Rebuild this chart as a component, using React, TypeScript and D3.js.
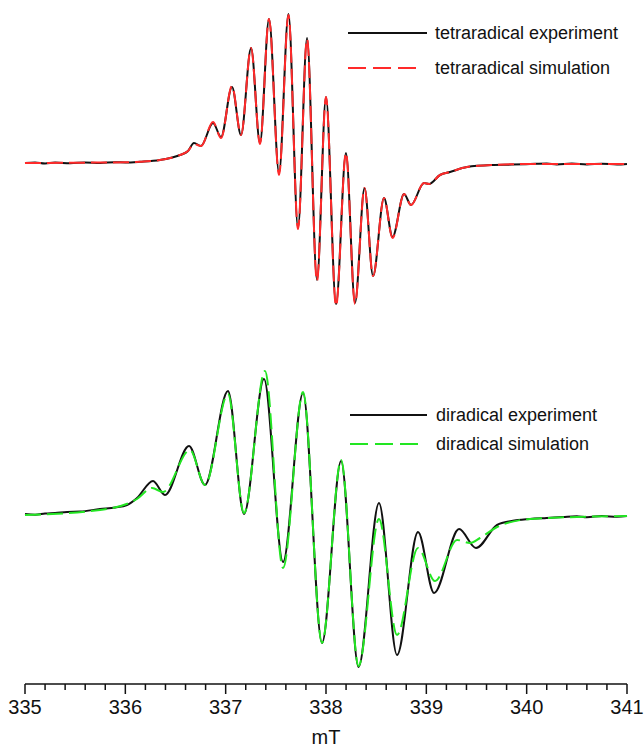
import React from "react";
import * as d3 from "d3";

// Magnetic field (mT) / intensity (a.u.) pairs
const tetraExperiment: [number, number][] = [
  [335.0, 0], [335.1, 0.6], [335.2, -0.4], [335.3, 0.5], [335.45, -0.3], [335.6, 0.6],
  [335.75, 0.1], [335.9, 0.8], [336.0, 0.5], [336.146, 1.2], [336.346, 3], [336.545, 8],
  [336.625, 12], [336.684, 20], [336.754, 17], [336.874, 40], [336.954, 26],
  [337.063, 76], [337.153, 28], [337.253, 115], [337.342, 20], [337.432, 144],
  [337.532, -10], [337.626, 149], [337.721, -65], [337.811, 125], [337.91, -117],
  [338.0, 66], [338.1, -141], [338.199, 10], [338.289, -140], [338.384, -25],
  [338.469, -113], [338.578, -35], [338.663, -74], [338.778, -31], [338.847, -42],
  [338.977, -20], [339.027, -21], [339.136, -12], [339.236, -9], [339.405, -4],
  [339.665, -2], [339.85, -1.6], [340.033, -1], [340.2, -0.5], [340.3, -1.4],
  [340.45, -0.6], [340.6, -1.5], [340.75, -0.7], [340.9, -1.5], [341.0, -1]
];

const tetraSimulation: [number, number][] = [
  [335.0, 0], [335.5, 0.3], [336.0, 0.8], [336.146, 1.2], [336.346, 3], [336.545, 8],
  [336.625, 12], [336.684, 19], [336.754, 17], [336.874, 41], [336.954, 25],
  [337.063, 77], [337.153, 28], [337.253, 115], [337.342, 19], [337.432, 144],
  [337.532, -12], [337.626, 148], [337.721, -66], [337.811, 124], [337.91, -118],
  [338.0, 66], [338.1, -143], [338.199, 10], [338.289, -141], [338.384, -25],
  [338.469, -113], [338.578, -35], [338.663, -75], [338.778, -31], [338.847, -42],
  [338.977, -20], [339.027, -21], [339.136, -12], [339.236, -9], [339.405, -4],
  [339.665, -2], [340.033, -1], [340.5, -1], [341.0, -1]
];

const diExperiment: [number, number][] = [
  [335.0, 1], [335.1, 0.3], [335.2, 1.4], [335.3, 2.0], [335.419, 3], [335.55, 3.4],
  [335.748, 6], [335.9, 7.5], [336.017, 10], [336.116, 17], [336.276, 34],
  [336.395, 20], [336.635, 69], [336.794, 30], [337.023, 124], [337.183, 1],
  [337.382, 136], [337.572, -47], [337.771, 122], [337.96, -128], [338.15, 54],
  [338.324, -152], [338.528, 12], [338.708, -140], [338.917, -17], [339.077, -78],
  [339.326, -14], [339.495, -33], [339.705, -10], [339.85, -6], [340.033, -4],
  [340.2, -3], [340.362, -2], [340.5, -1.2], [340.6, -2.2], [340.75, -1.0],
  [340.9, -1.8], [341.0, -1]
];

const diSimulation: [number, number][] = [
  [335.0, 0], [335.748, 5], [336.116, 16], [336.266, 27], [336.375, 23],
  [336.645, 65], [336.794, 30], [337.023, 121], [337.183, 2], [337.392, 144],
  [337.572, -53], [337.771, 123], [337.96, -128], [338.15, 55], [338.324, -151],
  [338.528, -4], [338.708, -120], [338.917, -33], [339.087, -66], [339.306, -25],
  [339.435, -28], [339.535, -23], [339.705, -12], [340.033, -4], [340.5, -2], [341.0, -1]
];

const majorTicks = [335, 336, 337, 338, 339, 340, 341];
const xTitle = "mT";
const legendTop = ["tetraradical experiment", "tetraradical simulation"];
const legendBottom = ["diradical experiment", "diradical simulation"];

export default function App() {
  const width = 644;
  const height = 750;
  const x = d3.scaleLinear().domain([335, 341]).range([25, 627]);
  const yTop = d3.scaleLinear().domain([-150, 150]).range([313, 13]);
  const yBot = d3.scaleLinear().domain([-150, 150]).range([665, 365]);

  const lineTop = d3.line<[number, number]>().x(d => x(d[0])).y(d => yTop(d[1])).curve(d3.curveMonotoneX);
  const lineBot = d3.line<[number, number]>().x(d => x(d[0])).y(d => yBot(d[1])).curve(d3.curveMonotoneX);

  const minorTicks = d3.range(335, 341.0001, 0.2).filter(v => Math.abs(v - Math.round(v)) > 1e-6);
  const axisY = 684;
  const font = "Liberation Sans, Arial, Helvetica, sans-serif";
  const red = "#ff2a2a";
  const green = "#22e622";

  return (
    <svg width={width} height={height} style={{ position: "absolute", left: 0, top: 0, background: "#fff" }}>
      <rect width={width} height={height} fill="#fff" />
      {/* tetraradical */}
      <path d={lineTop(tetraExperiment) ?? ""} fill="none" stroke="#111" strokeWidth={2} />
      <path d={lineTop(tetraSimulation) ?? ""} fill="none" stroke={red} strokeWidth={2} strokeDasharray="16,6" />
      {/* diradical */}
      <path d={lineBot(diExperiment) ?? ""} fill="none" stroke="#111" strokeWidth={2} />
      <path d={lineBot(diSimulation) ?? ""} fill="none" stroke={green} strokeWidth={2} strokeDasharray="16,6" />

      {/* legends */}
      <g fontFamily={font} fontSize={18} fill="#111">
        <line x1={348} x2={427} y1={33} y2={33} stroke="#111" strokeWidth={2} />
        <text x={435} y={39}>{legendTop[0]}</text>
        <line x1={348} x2={420} y1={68} y2={68} stroke={red} strokeWidth={2} strokeDasharray="18,7" />
        <text x={435} y={74}>{legendTop[1]}</text>

        <line x1={350} x2={427} y1={415} y2={415} stroke="#111" strokeWidth={2} />
        <text x={436} y={421}>{legendBottom[0]}</text>
        <line x1={350} x2={420} y1={444} y2={444} stroke={green} strokeWidth={2} strokeDasharray="18,7" />
        <text x={436} y={450}>{legendBottom[1]}</text>
      </g>

      {/* x axis */}
      <g stroke="#111" strokeWidth={1.5}>
        <line x1={x(335)} x2={x(341)} y1={axisY} y2={axisY} />
        {majorTicks.map(t => (
          <line key={"M" + t} x1={x(t)} x2={x(t)} y1={axisY} y2={axisY + 10} />
        ))}
        {minorTicks.map((t, i) => (
          <line key={"m" + i} x1={x(t)} x2={x(t)} y1={axisY} y2={axisY + 6} />
        ))}
      </g>
      <g fontFamily={font} fontSize={20} fill="#111" textAnchor="middle">
        {majorTicks.map(t => (
          <text key={"L" + t} x={x(t)} y={714}>{t}</text>
        ))}
        <text x={x(338)} y={744}>{xTitle}</text>
      </g>
    </svg>
  );
}
